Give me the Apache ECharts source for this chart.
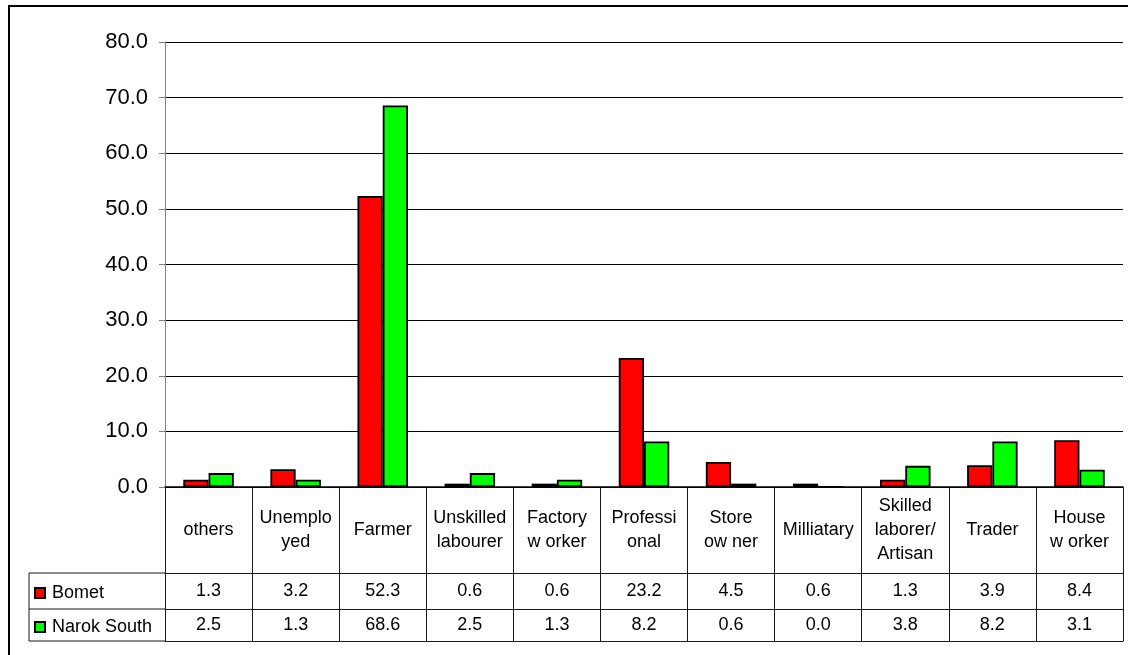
<!DOCTYPE html>
<html>
<head>
<meta charset="utf-8">
<script src="https://cdn.jsdelivr.net/npm/echarts@6/dist/echarts.min.js"></script>
<style>
  html, body { margin: 0; padding: 0; background: #fff; }
  #chart { width: 1128px; height: 655px; }
</style>
</head>
<body>
<div id="chart"></div>
<script>
// Occupation categories (line breaks as laid out in the table header)
const categories = [
  'others', 'Unemplo\nyed', 'Farmer', 'Unskilled\nlabourer', 'Factory\nw orker',
  'Professi\nonal', 'Store\now ner', 'Milliatary', 'Skilled\nlaborer/\nArtisan',
  'Trader', 'House\nw orker'
];
const seriesNames = ['Bomet', 'Narok South'];
const bomet = [1.3, 3.2, 52.3, 0.6, 0.6, 23.2, 4.5, 0.6, 1.3, 3.9, 8.4];
const narokSouth = [2.5, 1.3, 68.6, 2.5, 1.3, 8.2, 0.6, 0.0, 3.8, 8.2, 3.1];
const yTicks = { min: 0, max: 80, interval: 10 };

const FONT = '"Liberation Sans", Arial, sans-serif';
const LINE = '#1a1a1a';

// plot frame
const G = { left: 165, right: 5, top: 42, bottom: 168 };
const H = 655;
const axisY = H - G.bottom;          // baseline / table top
const headRow = 86, row1 = 36, row2 = 32;
const tableLeft = 29;

function tableAxis(offset, tickLen, values, margin) {
  return {
    type: 'category',
    gridIndex: 0,
    position: 'bottom',
    offset: offset,
    data: categories,
    boundaryGap: true,
    axisLine: { show: true, lineStyle: { color: LINE, width: 1 } },
    axisTick: { show: tickLen > 0, interval: 0, length: tickLen, lineStyle: { color: LINE, width: 1 } },
    axisLabel: values ? {
      show: true, interval: 0, margin: margin, verticalAlign: 'middle',
      fontFamily: FONT, fontSize: 18, color: '#000',
      formatter: (v, i) => values[i].toFixed(1)
    } : { show: false },
    splitLine: { show: false }
  };
}

const chart = echarts.init(document.getElementById('chart'), null, { renderer: 'canvas' });

const option = {
  backgroundColor: '#fff',
  animation: false,
  grid: { left: G.left, right: G.right, top: G.top, bottom: G.bottom, containLabel: false },
  legend: {
    orient: 'vertical',
    left: 34,
    top: axisY + headRow + 10,
    padding: 0,
    itemWidth: 10,
    itemHeight: 10,
    itemGap: 14,
    icon: 'rect',
    selectedMode: false,
    textStyle: { fontFamily: FONT, fontSize: 18, color: '#000', lineHeight: 20, padding: [0, 0, 0, 2] },
    data: seriesNames
  },
  xAxis: [
    {
      type: 'category',
      data: categories,
      boundaryGap: true,
      axisLine: { show: true, lineStyle: { color: '#000', width: 1.5 } },
      axisTick: { show: true, interval: 0, length: headRow, lineStyle: { color: LINE, width: 1 } },
      axisLabel: {
        show: true, interval: 0, margin: headRow / 2, verticalAlign: 'middle',
        fontFamily: FONT, fontSize: 18, color: '#000', lineHeight: 24, align: 'center'
      },
      splitLine: { show: false }
    },
    tableAxis(headRow, row1, bomet, row1 / 2),
    tableAxis(headRow + row1, row2, narokSouth, row2 / 2),
    tableAxis(headRow + row1 + row2, 0, null, 0)
  ],
  yAxis: {
    type: 'value',
    min: yTicks.min,
    max: yTicks.max,
    interval: yTicks.interval,
    axisLine: { show: true, lineStyle: { color: '#808080', width: 1 } },
    axisTick: { show: true, length: 6, lineStyle: { color: '#808080' } },
    axisLabel: {
      margin: 17, fontFamily: FONT, fontSize: 22, color: '#000',
      formatter: v => v.toFixed(1)
    },
    splitLine: { show: true, lineStyle: { color: '#000', width: 1 } }
  },
  series: [
    {
      name: seriesNames[0], type: 'bar', data: bomet,
      barGap: '0%', barCategoryGap: '42%',
      itemStyle: { color: '#ff0000', borderColor: '#000', borderWidth: 1.8 }
    },
    {
      name: seriesNames[1], type: 'bar', data: narokSouth,
      barGap: '0%', barCategoryGap: '42%',
      itemStyle: { color: '#00ff00', borderColor: '#000', borderWidth: 1.8 }
    }
  ],
  graphic: [
    // outer chart frame
    { type: 'rect', silent: true, z: 100,
      shape: { x: 9, y: 6, width: 1300, height: 800 },
      style: { fill: 'none', stroke: '#000', lineWidth: 2 } },
    // legend column of the data table
    { type: 'line', silent: true, shape: { x1: tableLeft, y1: axisY + headRow, x2: G.left, y2: axisY + headRow }, style: { stroke: LINE, lineWidth: 1 } },
    { type: 'line', silent: true, shape: { x1: tableLeft, y1: axisY + headRow + row1, x2: G.left, y2: axisY + headRow + row1 }, style: { stroke: LINE, lineWidth: 1 } },
    { type: 'line', silent: true, shape: { x1: tableLeft, y1: axisY + headRow + row1 + row2, x2: G.left, y2: axisY + headRow + row1 + row2 }, style: { stroke: LINE, lineWidth: 1 } },
    { type: 'line', silent: true, shape: { x1: tableLeft, y1: axisY + headRow, x2: tableLeft, y2: axisY + headRow + row1 + row2 }, style: { stroke: LINE, lineWidth: 1 } }
  ]
};

chart.setOption(option);
</script>
</body>
</html>
